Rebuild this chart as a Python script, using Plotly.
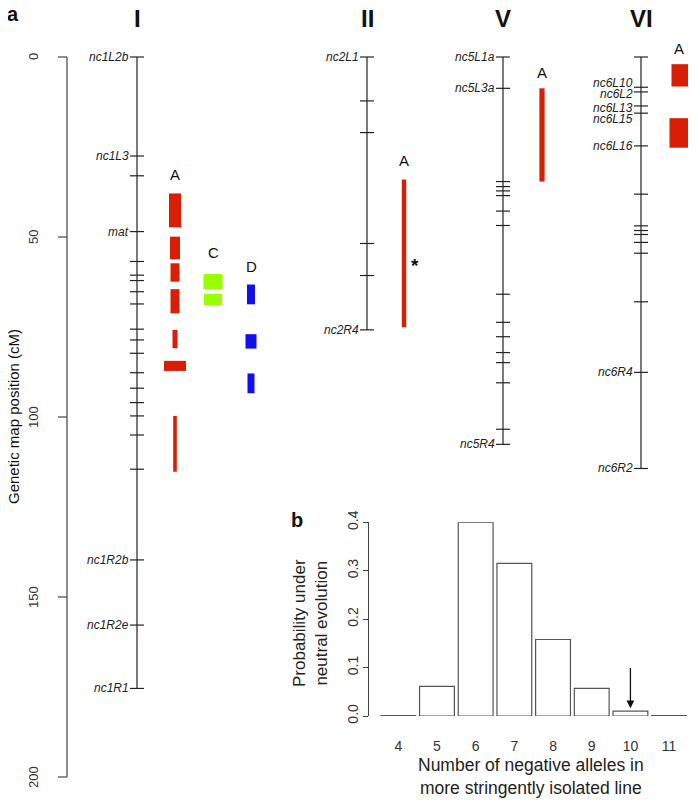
import plotly.graph_objects as go

# ---------------- data ----------------
chr_names = ["I", "II", "V", "VI"]
chr_x = [137, 367, 503, 641]          # horizontal placement (reference px)
chr_len = [175.4, 75.8, 107.6, 114.3]
chr_ticks = {
    "I": [0, 27.5, 33, 48.5, 56.8, 60.6, 62.1, 65.2, 68.6, 75.6, 78.6, 82.3, 87.7, 92, 96, 99.7, 105, 114.5, 139.7, 157.8, 175.4],
    "II": [0, 12.2, 21, 51.8, 60.7, 75.8],
    "V": [0, 8.7, 34.6, 36, 37.2, 38.5, 42.8, 46.8, 65.9, 73.7, 77.7, 82.1, 84.9, 90.5, 103.4, 107.6],
    "VI": [0, 8.4, 9.7, 13.6, 15.6, 24.7, 38.1, 46.9, 48.2, 49.3, 51.5, 54.5, 68, 87.6, 114.3],
}
marker_labels = {
    "I": [("nc1L2b", 0), ("nc1L3", 27.5), ("mat", 48.5), ("nc1R2b", 139.7), ("nc1R2e", 157.8), ("nc1R1", 175.4)],
    "II": [("nc2L1", 0), ("nc2R4", 75.8)],
    "V": [("nc5L1a", 0), ("nc5L3a", 8.7), ("nc5R4", 107.6)],
    "VI": [("nc6L10", 7.3), ("nc6L2", 10.4), ("nc6L13", 14.3), ("nc6L15", 17.3), ("nc6L16", 24.7), ("nc6R4", 87.6), ("nc6R2", 114.3)],
}
# regions: (line, x_center, half_width, start cM, end cM)
regions = [
    ("A", 175, 6, 37.9, 47.3), ("A", 175, 5, 49.9, 56.2), ("A", 175, 4.5, 57.3, 62.4),
    ("A", 175, 4.5, 64.5, 71.2), ("A", 175, 2.5, 75.8, 80.9), ("A", 175, 11, 84.4, 87.2),
    ("A", 175, 1.8, 99.7, 115.2),
    ("C", 213, 9.5, 60.3, 64.5), ("C", 213, 9, 65.8, 68.9),
    ("D", 251, 4, 63.2, 68.7), ("D", 251, 5.5, 77, 81), ("D", 251, 3.5, 87.9, 93.4),
    ("A", 404, 2.2, 34, 75.1),
    ("A", 542, 2.6, 8.7, 34.6),
    ("A", 680, 8.5, 2, 8.2), ("A", 680, 10.5, 17, 25.2),
]
region_colors = {"A": "#d81e05", "C": "#99ff00", "D": "#1010ee"}
region_letters = [("A", 175, 32.5), ("C", 213, 54.4), ("D", 251, 58.1),
                  ("A", 404, 28.8), ("A", 542, 4.4), ("A", 679, -2.4)]
left_ticks = [0, 50, 100, 150, 200]

counts = [4, 5, 6, 7, 8, 9, 10, 11]
probs = [0.001, 0.061, 0.400, 0.315, 0.158, 0.057, 0.010, 0.001]

# ---------------- geometry ----------------
OFF = 8    # page body margin in the viewer
PX = 3.6   # px per cM
Y0 = 57    # px of 0 cM
def cm(py):
    return (py - Y0) / PX
def px_x(p):
    return (p - OFF) / 696
def px_y(p):
    return 1 - (p - OFF) / 800

fig = go.Figure()
font = "Liberation Sans, Arial, sans-serif"

def ann(**kw):
    kw.setdefault("showarrow", False)
    kw.setdefault("xanchor", "center")
    kw.setdefault("yanchor", "middle")
    fig.add_annotation(**kw)

for name, x, L in zip(chr_names, chr_x, chr_len):
    fig.add_trace(go.Scatter(x=[x, x], y=[0, L], mode="lines",
                             line=dict(color="#222", width=1.2), showlegend=False, hoverinfo="skip"))
    t = chr_ticks[name]
    fig.add_trace(go.Scatter(x=[x] * len(t), y=t, mode="markers",
                             marker=dict(symbol="line-ew", size=10, line=dict(color="#222", width=1.2)),
                             showlegend=False, hoverinfo="skip"))
    for lab, yy in marker_labels[name]:
        ann(x=x - 6, y=yy, text=f"<i>{lab}</i>", xanchor="right",
            font=dict(size=12, family=font, color="#222"))
    ann(x=x, y=cm(18), text=f"<b>{name}</b>", font=dict(size=24, family=font, color="#111"))

for ln, xc, hw, a, b in regions:
    fig.add_shape(type="rect", xref="x", yref="y", x0=xc - hw, x1=xc + hw, y0=a, y1=b,
                  fillcolor=region_colors[ln], line=dict(width=0))
for ln, xc, yy in region_letters:
    ann(x=xc, y=yy, text=ln, font=dict(size=15, family=font, color="#111"))
ann(x=415, y=cm(265), text="<b>*</b>", font=dict(size=19, family=font, color="#111"))

# left axis
fig.add_trace(go.Scatter(x=[67, 67], y=[0, 200], mode="lines", line=dict(color="#444", width=1.2),
                         showlegend=False, hoverinfo="skip"))
for v in left_ticks:
    fig.add_shape(type="line", xref="x", yref="y", x0=58, x1=67, y0=v, y1=v, line=dict(color="#444", width=1.2))
    ann(x=33, y=v, text=str(v), textangle=-90, font=dict(size=13, family=font, color="#333"))
ann(x=13, y=cm(417), text="Genetic map position (cM)", textangle=-90,
    font=dict(size=15, family=font, color="#111"))
ann(x=13, y=cm(14), text="<b>a</b>", font=dict(size=20, family=font, color="#111"))

# ---------------- panel b ----------------
fig.add_trace(go.Bar(x=counts, y=probs, width=0.9, xaxis="x2", yaxis="y2",
                     marker=dict(color="white", line=dict(color="#555", width=1.2)),
                     showlegend=False, hoverinfo="skip"))
fig.add_annotation(xref="x2", yref="y2", x=10, y=0.016, ax=10, ay=0.102, axref="x2", ayref="y2",
                   showarrow=True, arrowhead=2, arrowsize=1.2, arrowwidth=1.3, arrowcolor="#111", text="")
ann(xref="paper", yref="paper", x=px_x(297), y=px_y(520), text="<b>b</b>",
    font=dict(size=20, family=font, color="#111"))
ann(xref="paper", yref="paper", x=px_x(310), y=px_y(623),
    text="Probability under<br>neutral evolution", textangle=-90,
    font=dict(size=17, family=font, color="#222"))
ann(xref="paper", yref="paper", x=px_x(531), y=px_y(776),
    text="Number of negative alleles in<br>more stringently isolated line",
    font=dict(size=17.5, family=font, color="#222"))

fig.update_layout(
    width=696, height=800, margin=dict(l=0, r=0, t=0, b=0, pad=0, autoexpand=False),
    plot_bgcolor="white", paper_bgcolor="white",
    xaxis=dict(domain=[0, 1], range=[OFF, 696 + OFF], visible=False, automargin=False),
    yaxis=dict(domain=[0, 1], range=[cm(800 + OFF), cm(OFF)], visible=False, automargin=False),
    xaxis2=dict(domain=[px_x(368.3), px_x(690)], range=[3.225, 11.54], anchor="y2", automargin=False,
                tickvals=counts, showline=False, ticks="", showgrid=False, zeroline=False,
                tickfont=dict(size=14, family=font, color="#333"), ticklabelstandoff=20),
    yaxis2=dict(domain=[px_y(716), px_y(522.3)], range=[0, 0.4], anchor="free", position=px_x(368.3),
                automargin=False,
                tickvals=[0, 0.1, 0.2, 0.3, 0.4], ticktext=["0.0", "0.1", "0.2", "0.3", "0.4"],
                showline=True, linecolor="#444", linewidth=1.2, ticks="outside", ticklen=5,
                tickcolor="#444", tickangle=-90, showgrid=False, zeroline=False,
                tickfont=dict(size=14, family=font, color="#333")),
)
fig.write_html("out.html", config={"responsive": False})
